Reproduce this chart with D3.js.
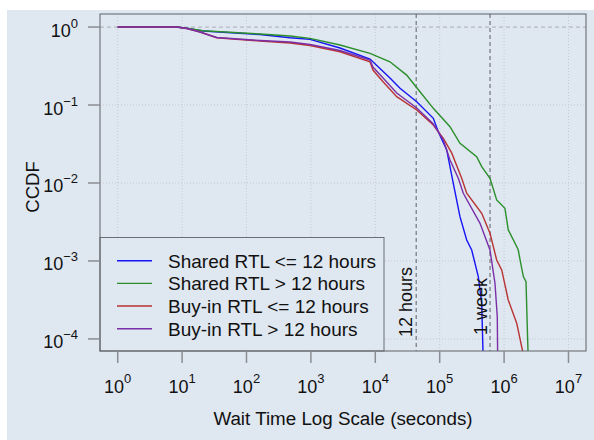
<!DOCTYPE html>
<html>
<head>
<meta charset="utf-8">
<script src="https://cdn.jsdelivr.net/npm/d3@7"></script>
<style>
  body { margin: 0; background: #fff; }
  text { font-family: "Liberation Sans", Arial, sans-serif; fill: #111; }
</style>
</head>
<body>
<div id="chart"></div>
<script>
/* DATA: wait time (seconds) and CCDF for each series */
const sharedShortTime = [1, 8.2, 11.8, 21, 162, 475, 970, 2830, 8280, 16900, 24200, 44000, 79600, 95100, 128500, 162600, 206500, 262500, 314000, 397500, 449000, 475000]
const sharedShortCcdf = [1, 1, 0.97, 0.889, 0.801, 0.729, 0.695, 0.538, 0.389, 0.222, 0.164, 0.110, 0.0676, 0.0455, 0.0265, 0.0099, 0.0037, 0.00186, 0.00138, 0.00063, 0.000287, 0.00005]

const sharedLongTime = [1, 8.2, 11.8, 21, 162, 475, 970, 2830, 8280, 16900, 30700, 49400, 79600, 144500, 206500, 375000, 449000, 604000, 767000, 1030000, 1160000, 1480000, 1660000, 1770000, 1990000, 2190000, 2290000, 2380000]
const sharedLongCcdf = [1, 1, 0.97, 0.897, 0.813, 0.767, 0.716, 0.588, 0.460, 0.359, 0.242, 0.148, 0.0907, 0.0527, 0.0323, 0.0217, 0.0162, 0.0115, 0.00606, 0.00474, 0.0025, 0.00169, 0.00138, 0.00103, 0.00063, 0.000543, 0.000144, 0.00005]

const buyinShortTime = [1, 8.2, 11.8, 15, 19, 26, 34.5, 162, 475, 970, 2830, 8280, 9200, 13200, 21500, 44000, 79600, 113800, 153500, 219600, 262500, 449000, 604000, 767000, 918000, 1160000, 1570000, 2110000]
const buyinShortCcdf = [1, 1, 0.957, 0.91, 0.863, 0.79, 0.729, 0.662, 0.623, 0.579, 0.482, 0.359, 0.281, 0.199, 0.128, 0.0863, 0.0554, 0.0374, 0.0243, 0.0115, 0.00738, 0.00409, 0.00226, 0.00103, 0.000767, 0.000316, 0.000159, 0.00005]

const buyinLongTime = [1, 8.2, 11.8, 15, 19, 26, 34.5, 162, 475, 970, 2830, 8280, 9200, 13200, 21500, 44000, 79600, 113800, 144500, 194500, 232500, 422700, 604000, 722000, 784000, 796000]
const buyinLongCcdf = [1, 1, 0.957, 0.91, 0.863, 0.79, 0.734, 0.671, 0.642, 0.597, 0.5, 0.377, 0.307, 0.222, 0.1425, 0.0916, 0.057, 0.0356, 0.0197, 0.0115, 0.00738, 0.00304, 0.00138, 0.000518, 0.000193, 0.00005]

const seriesNames = ["Shared RTL <= 12 hours", "Shared RTL > 12 hours", "Buy-in RTL <= 12 hours", "Buy-in RTL > 12 hours"]
const seriesColors = ["#1414f5", "#2a8f2a", "#b83232", "#7a2fa8"]

const xExponents = [0, 1, 2, 3, 4, 5, 6, 7] // tick labels 10^n
const yExponents = [0, -1, -2, -3, -4]

const markerTimes = [43200, 604800] // 12 hours, 1 week
const markerLabels = ["12 hours", "1 week"]

/* LAYOUT */
const width = 594, height = 440
const panel = {left: 100, right: 586, top: 14, bottom: 351}
const bg = "#dfe7f0"

const svg = d3.select("#chart").append("svg")
  .attr("width", width)
  .attr("height", height)

svg.append("rect") // light blue backdrop
  .attr("x", 7).attr("y", 10)
  .attr("width", width - 7).attr("height", height - 10)
  .attr("fill", bg)

const x = d3.scaleLog().domain([0.531, 1.87e7]).range([panel.left, panel.right])
const y = d3.scaleLog().domain([1.47, 7.0e-5]).range([panel.top, panel.bottom])

const xTicks = xExponents.map(e => Math.pow(10, e))
const yTicks = yExponents.map(e => Math.pow(10, e))

svg.append("clipPath").attr("id", "clip")
  .append("rect")
  .attr("x", panel.left).attr("y", panel.top)
  .attr("width", panel.right - panel.left).attr("height", panel.bottom - panel.top)

//grid lines
const grid = svg.append("g")
grid.selectAll(".vgrid")
  .data(xTicks)
  .join("line")
  .attr("x1", d => x(d)).attr("x2", d => x(d))
  .attr("y1", panel.top).attr("y2", panel.bottom)
  .attr("stroke", "#c4c9d2").attr("stroke-dasharray", "1,2")
grid.selectAll(".hgrid")
  .data(yTicks.slice(1))
  .join("line")
  .attr("x1", panel.left).attr("x2", panel.right)
  .attr("y1", d => y(d)).attr("y2", d => y(d))
  .attr("stroke", "#c4c9d2").attr("stroke-dasharray", "1,2")

//ccdf = 1 line
svg.append("line")
  .attr("x1", panel.left).attr("x2", panel.right)
  .attr("y1", y(1)).attr("y2", y(1))
  .attr("stroke", "#b5b9c2").attr("stroke-width", 1.3).attr("stroke-dasharray", "4,3")

//12 hours and 1 week markers
svg.selectAll(".marker")
  .data(markerTimes)
  .join("line")
  .attr("x1", d => x(d)).attr("x2", d => x(d))
  .attr("y1", panel.top).attr("y2", panel.bottom)
  .attr("stroke", "#7c7f86").attr("stroke-width", 1.3).attr("stroke-dasharray", "4,3")

//the curves
const allSeries = [
  d3.zip(sharedShortTime, sharedShortCcdf),
  d3.zip(sharedLongTime, sharedLongCcdf),
  d3.zip(buyinShortTime, buyinShortCcdf),
  d3.zip(buyinLongTime, buyinLongCcdf)
]
const line = d3.line()
  .x(d => x(d[0]))
  .y(d => y(d[1]))

svg.append("g")
  .attr("clip-path", "url(#clip)")
  .selectAll("path")
  .data(allSeries)
  .join("path")
  .attr("d", line)
  .attr("fill", "none")
  .attr("stroke", (d, i) => seriesColors[i])
  .attr("stroke-width", 1.4)

//marker labels, rotated
svg.selectAll(".markerLabel")
  .data(markerTimes)
  .join("text")
  .attr("transform", (d, i) => `translate(${x(d) - (i == 0 ? 4 : 3)},${i == 0 ? 337 : 335}) rotate(-90)`)
  .attr("font-size", 18)
  .text((d, i) => markerLabels[i])

//legend
const legend = svg.append("g")
legend.append("rect")
  .attr("x", panel.left).attr("y", 237.5)
  .attr("width", 284).attr("height", panel.bottom - 237.5)
  .attr("fill", bg).attr("stroke", "#6b6e74")
seriesNames.forEach((name, i) => {
  const ly = 260.7 + i * 22.67
  legend.append("line")
    .attr("x1", 117).attr("x2", 152)
    .attr("y1", ly).attr("y2", ly)
    .attr("stroke", seriesColors[i]).attr("stroke-width", 1.4)
  legend.append("text")
    .attr("x", 168).attr("y", ly + 6.8)
    .attr("font-size", 19)
    .text(name)
})

//panel border
svg.append("rect")
  .attr("x", panel.left).attr("y", panel.top)
  .attr("width", panel.right - panel.left).attr("height", panel.bottom - panel.top)
  .attr("fill", "none").attr("stroke", "#5f6267")

//x axis
const xAxis = svg.append("g")
xAxis.selectAll("line")
  .data(xTicks)
  .join("line")
  .attr("x1", d => x(d)).attr("x2", d => x(d))
  .attr("y1", panel.bottom).attr("y2", panel.bottom + 12)
  .attr("stroke", "#8a8d93").attr("stroke-width", 1.5)
const xLabels = xAxis.selectAll("text")
  .data(xExponents)
  .join("text")
  .attr("x", d => x(Math.pow(10, d)))
  .attr("y", 393)
  .attr("text-anchor", "middle")
  .attr("font-size", 18)
xLabels.append("tspan").text("10")
xLabels.append("tspan").attr("font-size", 13).attr("dy", -10).text(d => d)

//y axis
const yAxis = svg.append("g")
yAxis.selectAll("line")
  .data(yTicks)
  .join("line")
  .attr("x1", panel.left - 12).attr("x2", panel.left)
  .attr("y1", d => y(d)).attr("y2", d => y(d))
  .attr("stroke", "#8a8d93").attr("stroke-width", 1.5)
const yLabels = yAxis.selectAll("text")
  .data(yExponents)
  .join("text")
  .attr("x", 78)
  .attr("y", d => y(Math.pow(10, d)) + 9.5)
  .attr("text-anchor", "end")
  .attr("font-size", 18)
yLabels.append("tspan").text("10")
yLabels.append("tspan").attr("font-size", 13).attr("dy", -9).text(d => d < 0 ? "\u2212" + (-d) : d)

//axis titles
svg.append("text")
  .attr("x", 343).attr("y", 425)
  .attr("text-anchor", "middle")
  .attr("font-size", 18.8)
  .text("Wait Time Log Scale (seconds)")
svg.append("text")
  .attr("transform", "translate(39,187) rotate(-90)")
  .attr("text-anchor", "middle")
  .attr("font-size", 18.5)
  .text("CCDF")
</script>
</body>
</html>
